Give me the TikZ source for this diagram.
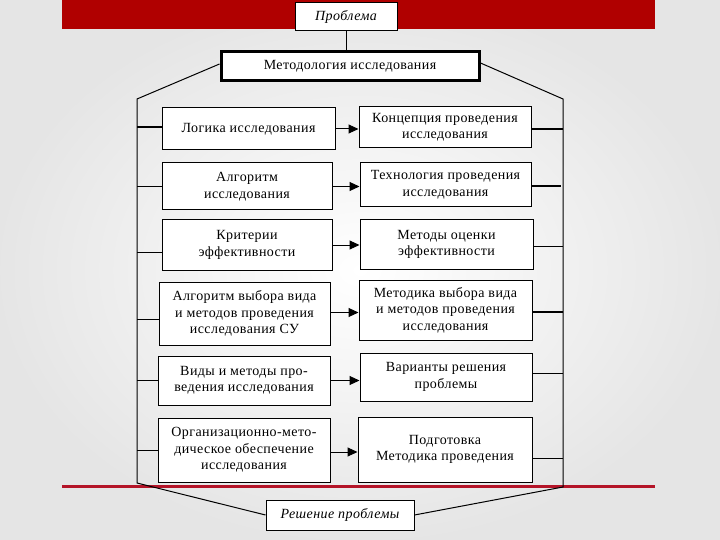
\documentclass[tikz,border=0pt]{standalone}
\usepackage{fontspec}
\setmainfont{Liberation Serif}[LetterSpace=3]
\usetikzlibrary{arrows.meta}
\definecolor{bandred}{RGB}{176,0,0}
\definecolor{lineRed}{RGB}{180,20,40}
\begin{document}
\begin{tikzpicture}[x=1pt,y=-1pt,
  box/.style={draw=black,line width=1pt,fill=white,align=center,inner sep=0pt,
    font=\fontsize{14}{16.5}\selectfont},
  conn/.style={draw=black,line width=1pt},
  thickconn/.style={draw=black,line width=1.8pt},
  arr/.style={draw=black,line width=1pt,-{Triangle[length=10pt,width=9pt]}}]
% background
\shade[inner color=white,outer color=black!10] (0,0) rectangle (720,540);
\useasboundingbox (0,0) rectangle (720,540);
\fill[bandred] (62,0) rectangle (655,29);
\fill[lineRed] (62,485) rectangle (655,487.5);
% top boxes
\node[box,minimum width=102pt,minimum height=28pt,font=\fontsize{14}{16.5}\selectfont\itshape] (prob) at (346,17) {Проблема};
\node[box,line width=3pt,minimum width=258pt,minimum height=29pt] (meth) at (350,66) {Методология исследования};
\node[box,minimum width=148pt,minimum height=30pt,font=\fontsize{14}{16.5}\selectfont\itshape] (sol) at (340,515) {Решение проблемы};
% left boxes
\node[box,minimum width=173pt,minimum height=42pt] (L1) at (248.5,129) {Логика исследования};
\node[box,minimum width=170pt,minimum height=47pt] (L2) at (247,186.5) {Алгоритм\\исследования};
\node[box,minimum width=170pt,minimum height=50pt] (L3) at (247,245) {Критерии\\эффективности};
\node[box,minimum width=171pt,minimum height=63pt] (L4) at (244.5,313.5) {Алгоритм выбора вида\\и методов проведения\\исследования СУ};
\node[box,minimum width=172pt,minimum height=49pt] (L5) at (244,380.5) {Виды и методы про-\\ведения исследования};
\node[box,minimum width=172pt,minimum height=64pt] (L6) at (244,450) {Организационно-мето-\\дическое обеспечение\\исследования};
% right boxes
\node[box,minimum width=172pt,minimum height=41pt] (R1) at (445,127.5) {Концепция проведения\\исследования};
\node[box,minimum width=171pt,minimum height=44pt] (R2) at (445.5,185) {Технология проведения\\исследования};
\node[box,minimum width=173pt,minimum height=49pt] (R3) at (446.5,244.5) {Методы оценки\\эффективности};
\node[box,minimum width=173pt,minimum height=60pt] (R4) at (445.5,310) {Методика выбора вида\\и методов проведения\\исследования};
\node[box,minimum width=172pt,minimum height=48pt] (R5) at (446,377) {Варианты решения\\проблемы};
\node[box,minimum width=174pt,minimum height=65pt] (R6) at (445,449.5) {Подготовка\\Методика проведения};
% bracket coordinates
\coordinate (tl) at (137,99);
\coordinate (bl) at (137,483);
\coordinate (tr) at (563,99);
\coordinate (br) at (563,487);
% connectors
\draw[conn] (prob.south) -- (prob.south |- meth.north);
\draw[conn] ([yshift=2pt]meth.west) -- (tl) -- (bl) -- (sol.west);
\draw[conn] ([yshift=3pt]meth.east) -- (tr) -- (br) -- (sol.east);
% left feeders
\draw[thickconn] ([yshift=2pt]L1.west) -- ([yshift=2pt]L1.west -| tl);
\draw[conn] (L2.west) -- (L2.west -| tl);
\draw[conn] ([yshift=-7pt]L3.west) -- ([yshift=-7pt]L3.west -| tl);
\draw[thickconn] ([yshift=-6pt]L4.west) -- ([yshift=-6pt]L4.west -| tl);
\draw[conn] (L5.west) -- (L5.west -| tl);
\draw[conn] (L6.west) -- (L6.west -| tl);
% right feeders
\draw[thickconn] ([yshift=-1.5pt]R1.east) -- ([yshift=-1.5pt]R1.east -| tr);
\draw[thickconn] ([yshift=-1pt]R2.east) -- ([yshift=-1pt,xshift=-2pt]R2.east -| tr);
\draw[conn] ([yshift=-1.5pt]R3.east) -- ([yshift=-1.5pt]R3.east -| tr);
\draw[thickconn] ([yshift=-2pt]R4.east) -- ([yshift=-2pt]R4.east -| tr);
\draw[conn] ([yshift=4pt]R5.east) -- ([yshift=4pt]R5.east -| tr);
\draw[conn] ([yshift=-8.5pt]R6.east) -- ([yshift=-8.5pt]R6.east -| tr);
% arrows
\draw[arr] (L1.east) -- (L1.east -| R1.west);
\draw[arr] (L2.east) -- (L2.east -| R2.west);
\draw[arr] (L3.east) -- (L3.east -| R3.west);
\draw[arr] ([yshift=1pt]L4.east) -- ([yshift=1pt]L4.east -| R4.west);
\draw[arr] (L5.east) -- (L5.east -| R5.west);
\draw[arr] ([yshift=-2pt]L6.east) -- ([yshift=-2pt]L6.east -| R6.west);
\end{tikzpicture}
\end{document}
